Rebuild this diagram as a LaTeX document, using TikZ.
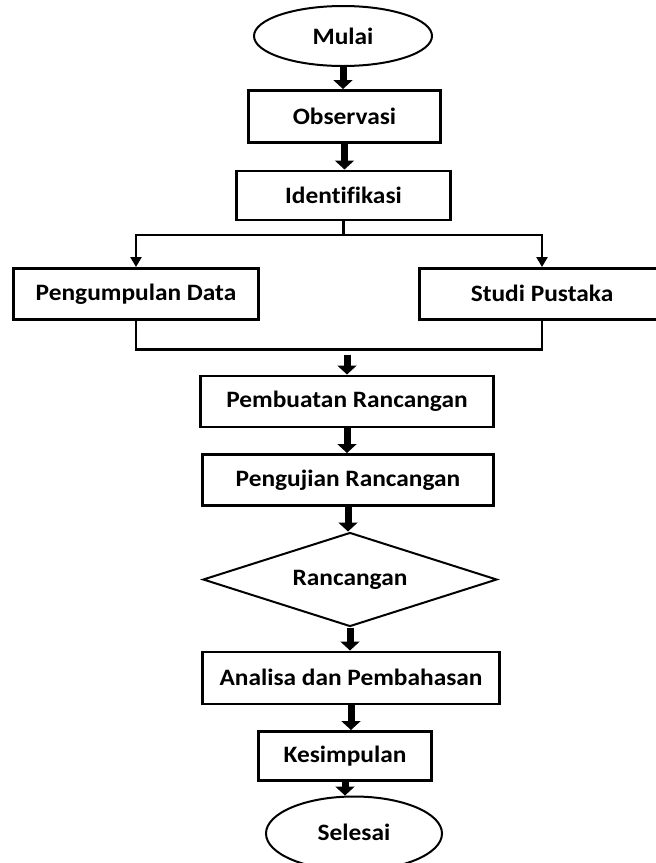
\documentclass[tikz,border=0pt]{standalone}
\usepackage{fontspec}
\setmainfont{Carlito}[FakeStretch=1.08, Ligatures=NoCommon]
\usepackage{tikz}
\usetikzlibrary{shapes.geometric, arrows.meta, positioning}
\tikzstyle{terminal} = [ellipse, draw=black, line width=2pt,
  minimum width=178pt, minimum height=60pt, inner sep=0pt,
  text centered, font=\fontsize{23.5}{27}\selectfont\bfseries]
\tikzstyle{process} = [rectangle, draw=black, line width=2.5pt,
  minimum height=51pt, inner sep=0pt,
  text centered, font=\fontsize{23.5}{27}\selectfont\bfseries]
\tikzstyle{decision} = [diamond, draw=black, line width=2pt,
  minimum width=294pt, minimum height=94pt, aspect=3.1, inner sep=0pt,
  text centered, font=\fontsize{23.5}{27}\selectfont\bfseries]
\tikzstyle{line} = [line width=2.5pt]
\tikzstyle{arrow} = [line width=2.5pt,-{Triangle[width=11pt,length=10pt]}]
\tikzstyle{bigarrow} = [line width=7pt,-{Triangle[width=19pt,length=9pt]}]

\begin{document}
\begin{tikzpicture}
\useasboundingbox (0,0) rectangle (656pt,-863pt);

\node (mulai) [terminal] at (343pt,-36pt) {Mulai};
\node (obs) [process, minimum width=192pt, minimum height=52pt,
  below=22pt of mulai, xshift=1.5pt] {Observasi};
\node (ident) [process, minimum width=214pt, minimum height=49pt,
  below=26pt of obs, xshift=-1pt] {Identifikasi};

\node (data) [process, minimum width=245pt, minimum height=51pt,
  below=46pt of ident, xshift=-207.5pt] {Pengumpulan Data};
\node (pustaka) [process, minimum width=245pt, minimum height=51pt,
  below=46pt of ident, xshift=198.5pt] {Studi Pustaka};

\node (buat) [process, minimum width=293pt, minimum height=51pt,
  below=54pt of data, xshift=211pt] {Pembuatan Rancangan};
\node (uji) [process, minimum width=291pt, minimum height=51pt,
  below=25pt of buat, xshift=1pt] {Pengujian Rancangan};
\node (ranc) [decision, below=25pt of uji, xshift=2pt] {Rancangan};
\node (analisa) [process, minimum width=297pt, minimum height=52pt,
  below=23pt of ranc, xshift=1pt] {Analisa dan Pembahasan};
\node (simpul) [process, minimum width=173pt, minimum height=49pt,
  below=25pt of analisa, xshift=-6pt] {Kesimpulan};
\node (selesai) [terminal, minimum width=176pt, minimum height=74pt,
  below=14pt of simpul, xshift=9pt] {\raisebox{3pt}{Selesai}};

% main flow
\draw [bigarrow] (mulai.south) -- (mulai.south |- obs.north);
\draw [bigarrow] (obs.south) -- (obs.south |- ident.north);

% split to the two branches
\draw [line] (ident.south) -- ++(0,-14pt) coordinate (split);
\draw [arrow] (split) -| (data.north);
\draw [arrow] (split) -| (pustaka.north);

% join of the branches
\draw [line] (data.south) -- ++(0,-29pt) coordinate (merge) -| (pustaka.south);
\coordinate (join) at (buat.north |- merge);
\draw [bigarrow] ([yshift=-5pt]join) -- (buat.north);

\draw [bigarrow] (buat.south) -- (buat.south |- uji.north);
\draw [bigarrow] (uji.south) -- (uji.south |- ranc.north);
\draw [bigarrow] (ranc.south) -- (ranc.south |- analisa.north);
\draw [bigarrow] (analisa.south) -- (analisa.south |- simpul.north);
\draw [bigarrow] (simpul.south) -- (simpul.south |- selesai.north);

\end{tikzpicture}
\end{document}
